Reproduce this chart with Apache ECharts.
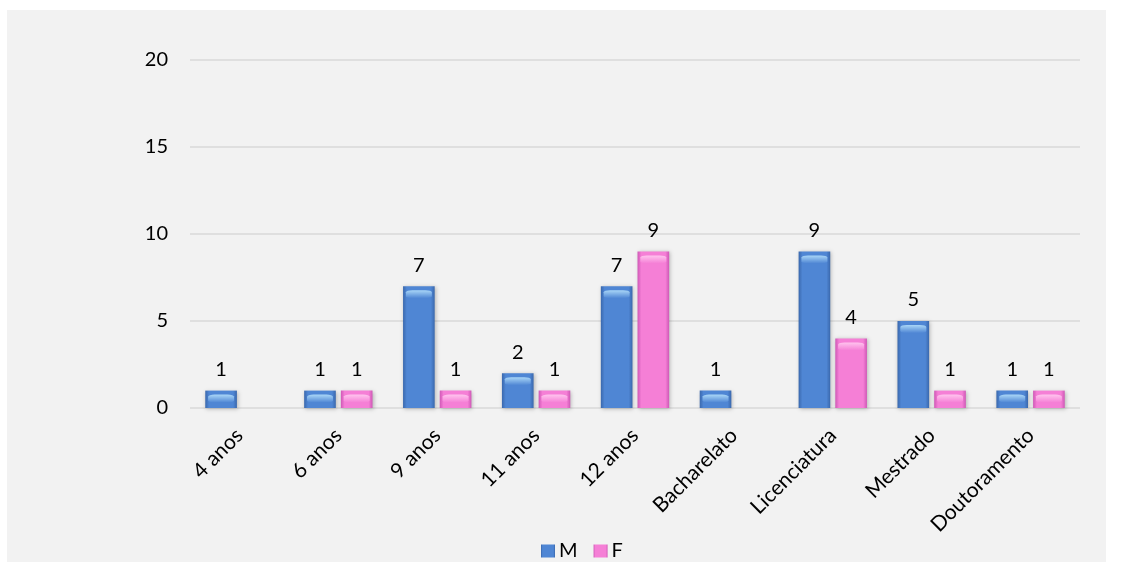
<!DOCTYPE html>
<html>
<head>
<meta charset="utf-8">
<script src="https://cdn.jsdelivr.net/npm/echarts@6/dist/echarts.min.js"></script>
<style>
  html, body { margin: 0; padding: 0; background: #ffffff; }
  #chart { position: absolute; left: 7px; top: 10px; width: 1099px; height: 552px; background: #f2f2f2; }
</style>
</head>
<body>
<div id="chart"></div>
<script>
// Escolaridade por sexo
const categories = ['4 anos', '6 anos', '9 anos', '11 anos', '12 anos', 'Bacharelato', 'Licenciatura', 'Mestrado', 'Doutoramento'];
const valuesM = [1, 1, 7, 2, 7, 1, 9, 5, 1];
const valuesF = [null, 1, 1, 1, 9, null, 4, 1, 1];
const yTicks = { min: 0, max: 20, interval: 5 };

const font = 'Lato, "Open Sans", sans-serif';

function barFill(edge, mid) {
  return new echarts.graphic.LinearGradient(0, 0, 1, 0, [
    { offset: 0, color: edge },
    { offset: 0.12, color: mid },
    { offset: 0.5, color: mid },
    { offset: 0.88, color: mid },
    { offset: 1, color: edge }
  ]);
}

function capFill(light, mid) {
  return new echarts.graphic.LinearGradient(0, 0, 0, 1, [
    { offset: 0, color: light },
    { offset: 1, color: mid }
  ]);
}

const chart = echarts.init(document.getElementById('chart'));
const labelStyle = {
  show: true,
  position: 'top',
  distance: 11,
  color: '#000',
  fontSize: 20,
  fontFamily: font
};

// light rim drawn over the top end of each bar
function capSeries(name, data, light, mid) {
  return {
    name: name,
    type: 'pictorialBar',
    data: data,
    barWidth: '32%',
    barGap: '16%',
    symbol: 'roundRect',
    symbolSize: ['82%', 8],
    symbolPosition: 'end',
    symbolOffset: [0, '50%'],
    z: 3,
    silent: true,
    itemStyle: { color: capFill(light, mid) }
  };
}

chart.setOption({
  animation: false,
  grid: { left: 183, right: 26, top: 50, bottom: 154 },
  legend: {
    top: 526,
    left: 529,
    itemWidth: 14,
    itemHeight: 13,
    itemGap: 16,
    icon: 'rect',
    textStyle: { fontSize: 20, fontFamily: font, color: '#000', padding: [0, 0, 0, -1] },
    data: ['M', 'F']
  },
  xAxis: {
    type: 'category',
    data: categories,
    axisLine: { show: false },
    axisTick: { show: false },
    axisLabel: {
      rotate: 45,
      interval: 0,
      margin: 24,
      fontSize: 21,
      fontFamily: font,
      color: '#000'
    }
  },
  yAxis: {
    type: 'value',
    min: yTicks.min,
    max: yTicks.max,
    interval: yTicks.interval,
    axisLine: { show: false },
    axisTick: { show: false },
    axisLabel: { fontSize: 20, fontFamily: font, color: '#000', margin: 22 },
    splitLine: { lineStyle: { color: '#d9d9d9', width: 1.5 } }
  },
  series: [
    {
      name: 'M',
      type: 'bar',
      data: valuesM,
      barWidth: '32%',
      barGap: '16%',
      itemStyle: {
        color: barFill('#3a68ad', '#4f86d4'),
        shadowColor: 'rgba(0,0,0,0.25)',
        shadowBlur: 4,
        shadowOffsetX: 1,
        shadowOffsetY: 1
      },
      label: labelStyle
    },
    {
      name: 'F',
      type: 'bar',
      data: valuesF,
      barWidth: '32%',
      itemStyle: {
        color: barFill('#cf58b6', '#f57fd6'),
        shadowColor: 'rgba(0,0,0,0.25)',
        shadowBlur: 4,
        shadowOffsetX: 1,
        shadowOffsetY: 1
      },
      label: labelStyle
    },
    capSeries('M-top', valuesM, '#a9d6f7', '#4f86d4'),
    capSeries('F-top', valuesF, '#ffc4ee', '#f57fd6')
  ]
});
</script>
</body>
</html>
